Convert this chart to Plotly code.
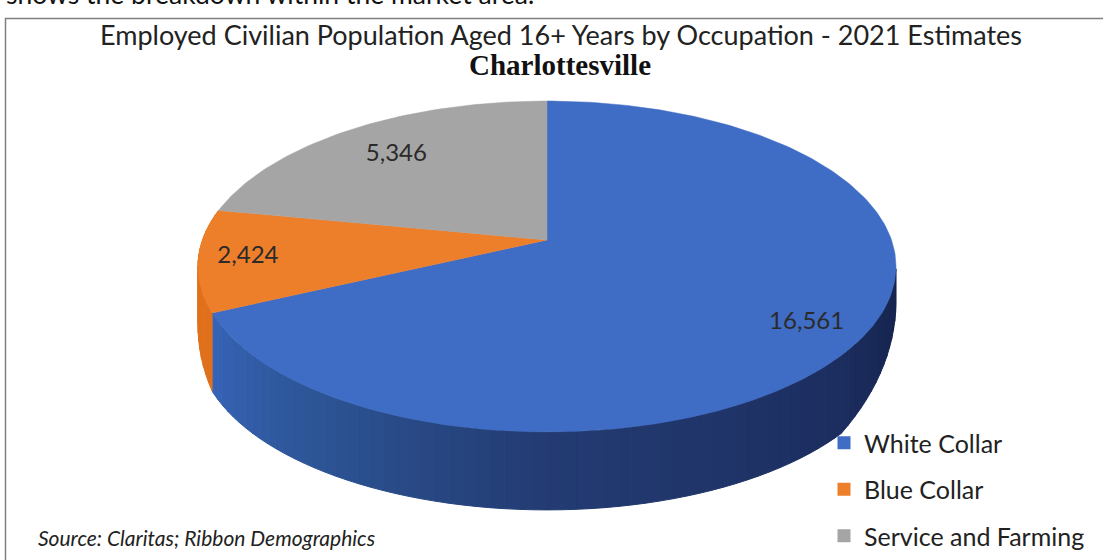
import math
import plotly.graph_objects as go

categories = ["White Collar", "Blue Collar", "Service and Farming"]
values = [16561, 2424, 5346]
value_labels = ["16,561", "2,424", "5,346"]
colors = ["#3f6cc4", "#ee7f2a", "#a5a5a5"]

W, H = 1103, 560
CX, CY = 547, 240        # pixel position of the pie's apex
A, B, K = 344.5, 161.2, 0.16   # tilt and perspective of the pie disc
DEPTH = 78
LABEL_R = [0.83, 0.86, 0.75]
LABEL_SHIFT = [(0, 6), (0, 0), (0, 0)]
# side-wall shading by angle (clockwise from 12 o'clock)
WALL_STOPS = [(100, (20, 35, 75)), (130, (28, 45, 95)), (180, (35, 60, 115)),
              (215, (45, 85, 150)), (245, (55, 100, 185))]
ORANGE_WALL = "#e0701c"


def depth_at(a):
    if a < 130:
        return DEPTH * (0.45 + 0.55 * (a - 100) / 30)
    if a > 245:
        return DEPTH - (a - 245) * 1.2
    return DEPTH


def proj(deg, r=1.0, depth=0.0):
    t = math.radians(deg)
    u, v = r * math.sin(t), r * math.cos(t)
    d = 1 + K * v
    return CX + A * u / d, CY - B * v / d + depth


def wall_color(a):
    for (a0, c0), (a1, c1) in zip(WALL_STOPS, WALL_STOPS[1:]):
        if a <= a1:
            f = max(0.0, (a - a0) / (a1 - a0))
            return "#" + "".join(f"{round(p + (q - p) * f):02x}" for p, q in zip(c0, c1))
    return ORANGE_WALL


total = sum(values)
spans = []
start = 0.0
for val in values:
    end = start + 360.0 * val / total
    spans.append((start, end))
    start = end

fig = go.Figure()

# side wall, drawn first so the top disc covers its hidden part
STEP = 2
a = 100.0
while a < spans[2][0]:
    b = min(a + STEP, spans[2][0])
    if a < spans[0][1] < b:
        b = spans[0][1]
    col = wall_color(a) if a < spans[0][1] else ORANGE_WALL
    n = 2
    angles = [a + (b - a) * i / n for i in range(n + 1)]
    top = [proj(x) for x in angles]
    bot = [proj(x, depth=depth_at(x)) for x in reversed(angles)]
    pts = top + bot + [top[0]]
    fig.add_trace(go.Scatter(x=[p[0] for p in pts], y=[p[1] for p in pts], mode="lines",
                             fill="toself", fillcolor=col, line=dict(color=col, width=1),
                             showlegend=False, hoverinfo="skip"))
    a = b

# top disc wedges
for name, val, col, (s, e) in zip(categories, values, colors, spans):
    n = max(int(e - s), 2)
    rim = [proj(s + (e - s) * i / n) for i in range(n + 1)]
    pts = [(CX, CY)] + rim + [(CX, CY)]
    fig.add_trace(go.Scatter(x=[p[0] for p in pts], y=[p[1] for p in pts], mode="lines",
                             fill="toself", fillcolor=col, line=dict(color=col, width=0.5),
                             name=name, showlegend=False, hovertemplate=f"{name}: {val:,}<extra></extra>"))

# value labels
pos = [proj((s + e) / 2, r) for (s, e), r in zip(spans, LABEL_R)]
fig.add_trace(go.Scatter(x=[p[0] + d[0] for p, d in zip(pos, LABEL_SHIFT)],
                         y=[p[1] + d[1] for p, d in zip(pos, LABEL_SHIFT)],
                         mode="text", text=value_labels,
                         textfont=dict(family="Lato", size=24, color="#2a2a2a"),
                         showlegend=False, hoverinfo="skip"))

# legend entries
for name, col in zip(categories, colors):
    fig.add_trace(go.Scatter(x=[None], y=[None], mode="markers", name=name, legendgroup=name,
                             marker=dict(symbol="square", size=13, color=col)))

fig.update_layout(
    width=W, height=H, autosize=False,
    margin=dict(l=0, r=0, t=0, b=0),
    paper_bgcolor="white", plot_bgcolor="white",
    xaxis=dict(range=[0, W], visible=False, fixedrange=True),
    yaxis=dict(range=[H, 0], visible=False, fixedrange=True),
    legend=dict(x=824 / W, y=1 - 420 / H, xanchor="left", yanchor="top", tracegroupgap=11,
                font=dict(family="Lato", size=25, color="#222222"), bgcolor="rgba(0,0,0,0)"),
    shapes=[dict(type="rect", xref="paper", yref="paper", x0=5.5 / W, x1=1.02, y0=1 - 18.5 / H, y1=-0.03,
                 line=dict(color="#7f7f7f", width=1.5), fillcolor="rgba(0,0,0,0)", layer="below")],
    annotations=[
        dict(x=4 / W, y=1, xref="paper", yref="paper", xanchor="left", yanchor="top", yshift=24,
             showarrow=False, text="shows the breakdown within the market area.",
             font=dict(family="Lato", size=26.5, color="#111111")),
        dict(x=561, y=34, xref="x", yref="y", showarrow=False,
             text="Employed Civilian Population Aged 16+ Years by Occupation - 2021 Estimates",
             font=dict(family="Lato", size=27, color="#222222")),
        dict(x=560, y=65, xref="x", yref="y", showarrow=False, text="<b>Charlottesville</b>",
             font=dict(family="Liberation Serif", size=29, color="#111111")),
        dict(x=36, y=537, xref="x", yref="y", xanchor="left", showarrow=False,
             text="<i>Source: Claritas; Ribbon Demographics</i>",
             font=dict(family="Lato", size=21, color="#222222")),
    ],
)

fig.write_html("out.html", config=dict(displayModeBar=False),
               post_script="document.body.style.margin='0';document.body.style.overflow='hidden';")
